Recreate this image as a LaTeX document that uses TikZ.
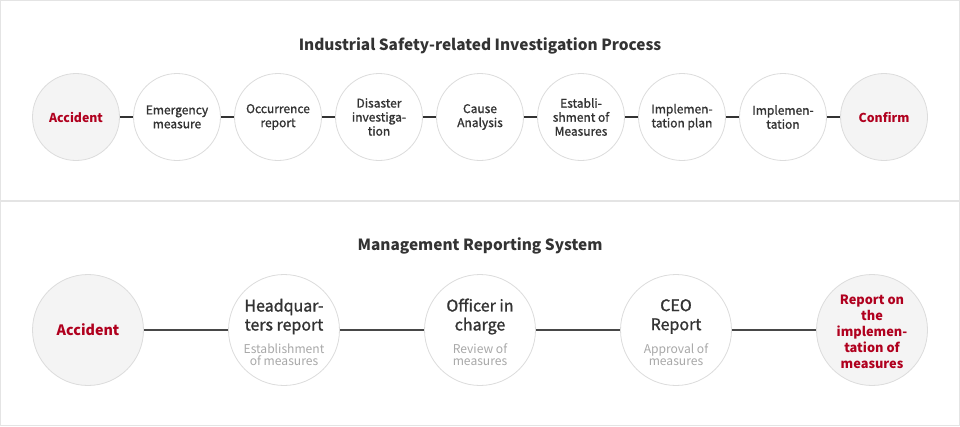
\documentclass[tikz,border=0pt]{standalone}
\usepackage{fontspec}
\setmainfont{Noto Sans CJK KR}
\newfontfamily\medf[FakeBold=1.2]{Noto Sans CJK KR}
\definecolor{framec}{HTML}{E4E4E4}
\definecolor{circd}{HTML}{DCDCDC}
\definecolor{endf}{HTML}{F4F4F4}
\definecolor{redt}{HTML}{B0001E}
\definecolor{txt}{HTML}{333333}
\definecolor{subt}{HTML}{A8A8A8}
\definecolor{linec}{HTML}{333333}
\begin{document}
\begin{tikzpicture}[x=1pt,y=-1pt,
  circ/.style={circle, draw=circd, line width=0.8pt, fill=white, minimum size=87pt, inner sep=0pt, align=center, text=txt, font=\medf\fontsize{12}{14}\selectfont},
  endc/.style={circ, fill=endf, text=redt, font=\bfseries\fontsize{12.3}{16}\selectfont},
  bcirc/.style={circle, draw=circd, line width=0.8pt, fill=white, minimum size=111pt, inner sep=0pt},
  bendc/.style={bcirc, fill=endf, align=center, text=redt, font=\bfseries\fontsize{14.3}{18}\selectfont},
  maintxt/.style={align=center, text=txt, inner sep=0pt, font=\medf\fontsize{16}{19}\selectfont},
  subtxt/.style={align=center, text=subt, inner sep=0pt, font=\fontsize{12.1}{12.2}\selectfont},
  redtxt/.style={align=center, text=redt, inner sep=0pt, font=\bfseries\fontsize{12.8}{16}\selectfont},
  title/.style={text=txt, inner sep=0pt, font=\bfseries\fontsize{15.4}{18}\selectfont},
  conn/.style={draw=linec, line width=1.8pt},
  bconn/.style={draw=linec!90, line width=2.6pt}
]
\useasboundingbox (0,0) rectangle (960,426);
\draw[framec, line width=1.2pt] (0.6,0.6) rectangle (959.4,425.4);
\draw[framec, line width=1.2pt] (0.6,201) -- (959.4,201);

% top section
\node[title] (t0) at (480,45.5) {Industrial Safety-related Investigation Process};
\node[endc] (t1) at (76,117) {Accident};
\node[circ] (t2) at (177,117) {Emergency\\measure};
\node[circ] (t3) at (278,117) {Occurrence\\report};
\node[circ] (t4) at (379,117) {Disaster\\investiga-\\tion};
\node[circ] (t5) at (480,117) {Cause\\Analysis};
\node[circ] (t6) at (581,117) {Establi-\\shment of\\Measures};
\node[circ] (t7) at (682,117) {Implemen-\\tation plan};
\node[circ] (t8) at (783,117) {Implemen-\\tation};
\node[endc] (t9) at (884,117) {Confirm};
\foreach \a/\b in {t1/t2,t2/t3,t3/t4,t4/t5,t5/t6,t6/t7,t7/t8,t8/t9}
  \draw[conn] (\a) -- (\b);

% bottom section
\node[title] (b0) at (480,246) {Management Reporting System};
\node[bendc] (b1) at (88,330) {Accident};
\node[bcirc] (b2) at (284,330) {};
\node[bcirc] (b3) at (480,330) {};
\node[bcirc] (b4) at (676,330) {};
\node[bcirc, fill=endf] (b5) at (872,330) {};
\node[redtxt] (b5t) at (872,332) {Report on\\the\\implemen-\\tation of\\measures};
\node[maintxt] (b2m) at (284,316.5) {Headquar-\\ters report};
\node[subtxt] (b2s) at (284,354.5) {Establishment\\of measures};
\node[maintxt] (b3m) at (480,316.5) {Officer in\\charge};
\node[subtxt] (b3s) at (480,354.5) {Review of\\measures};
\node[maintxt] (b4m) at (676,316.5) {CEO\\Report};
\node[subtxt] (b4s) at (676,354.5) {Approval of\\measures};
\foreach \a/\b in {b1/b2,b2/b3,b3/b4,b4/b5}
  \draw[bconn] (\a) -- (\b);
\end{tikzpicture}
\end{document}
